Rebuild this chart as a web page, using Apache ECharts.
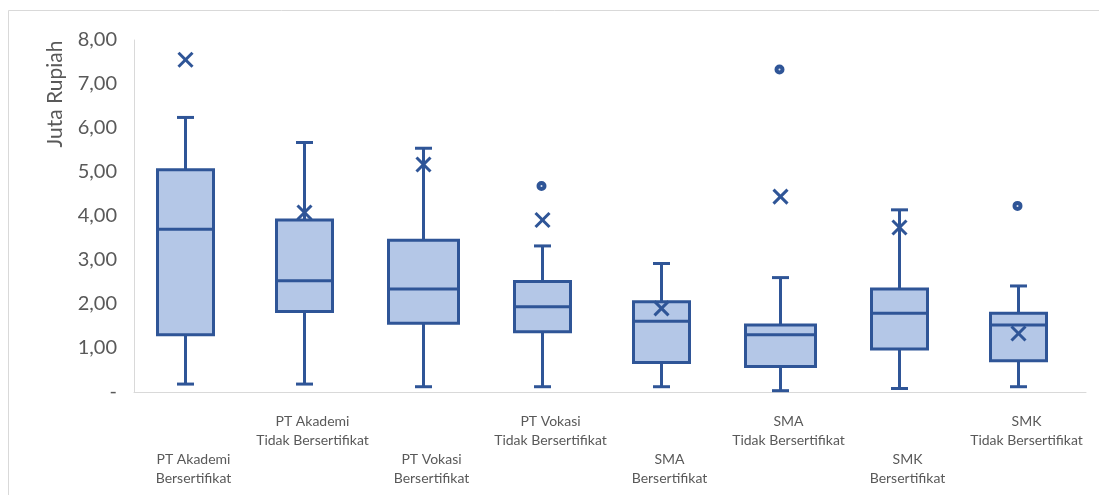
<!DOCTYPE html>
<html>
<head>
<meta charset="utf-8">
<script src="https://cdn.jsdelivr.net/npm/echarts@6/dist/echarts.min.js"></script>
<style>
  html, body { margin: 0; padding: 0; background: #ffffff; }
  #chart { width: 1099px; height: 495px; }
</style>
</head>
<body>
<div id="chart"></div>
<script>
// ---- Data ----
const categories = [
  'PT Akademi\nBersertifikat',
  'PT Akademi\nTidak Bersertifikat',
  'PT Vokasi\nBersertifikat',
  'PT Vokasi\nTidak Bersertifikat',
  'SMA\nBersertifikat',
  'SMA\nTidak Bersertifikat',
  'SMK\nBersertifikat',
  'SMK\nTidak Bersertifikat'
];
const minVals    = [0.18, 0.18, 0.12, 0.12, 0.12, 0.03, 0.08, 0.12];
const q1Vals     = [1.30, 1.83, 1.56, 1.37, 0.67, 0.58, 0.98, 0.71];
const medianVals = [3.70, 2.53, 2.34, 1.94, 1.61, 1.30, 1.79, 1.52];
const q3Vals     = [5.05, 3.91, 3.45, 2.51, 2.05, 1.52, 2.34, 1.79];
const maxVals    = [6.24, 5.67, 5.54, 3.32, 2.92, 2.60, 4.14, 2.41];
const meanVals   = [7.55, 4.08, 5.17, 3.91, 1.90, 4.44, 3.74, 1.33];
const outlierCats = [3, 5, 7];
const outlierVals = [4.68, 7.33, 4.23];
const yTicks = [0, 1, 2, 3, 4, 5, 6, 7, 8];

// ---- Styling ----
const STROKE = '#2F5597';
const FILL = '#B4C7E7';
const LABEL = '#595959';
const AXIS = '#D9D9D9';
const BOX_OFFSET = -9;
const wideBoxes = [2, 5];

const boxData = categories.map((c, i) =>
  [i, minVals[i], q1Vals[i], medianVals[i], q3Vals[i], maxVals[i], meanVals[i]]);
const outlierData = outlierCats.map((c, k) => [c, outlierVals[k]]);

function renderBox(params, api) {
  const i = api.value(0);
  const cx = Math.round(api.coord([i, 0])[0] + BOX_OFFSET) + 0.5;
  const y = v => api.coord([i, v])[1];
  const w = wideBoxes.indexOf(i) >= 0 ? 70 : 56;
  const cap = 8.5;
  const xs = 7;
  const lw = 3;
  const yMin = y(api.value(1)), yQ1 = y(api.value(2)), yMed = y(api.value(3));
  const yQ3 = y(api.value(4)), yMax = y(api.value(5)), yMean = y(api.value(6));
  const ls = { stroke: STROKE, lineWidth: lw };
  return {
    type: 'group',
    children: [
      { type: 'line', shape: { x1: cx, y1: yQ3, x2: cx, y2: yMax }, style: ls },
      { type: 'line', shape: { x1: cx, y1: yQ1, x2: cx, y2: yMin }, style: ls },
      { type: 'line', shape: { x1: cx - cap, y1: yMax, x2: cx + cap, y2: yMax }, style: ls },
      { type: 'line', shape: { x1: cx - cap, y1: yMin, x2: cx + cap, y2: yMin }, style: ls },
      { type: 'rect', shape: { x: cx - w / 2, y: yQ3, width: w, height: yQ1 - yQ3 },
        style: { fill: FILL, stroke: STROKE, lineWidth: lw } },
      { type: 'line', shape: { x1: cx - w / 2, y1: yMed, x2: cx + w / 2, y2: yMed }, style: ls },
      { type: 'line', shape: { x1: cx - xs, y1: yMean - xs, x2: cx + xs, y2: yMean + xs }, style: ls },
      { type: 'line', shape: { x1: cx - xs, y1: yMean + xs, x2: cx + xs, y2: yMean - xs }, style: ls }
    ]
  };
}

const chart = echarts.init(document.getElementById('chart'), null, { renderer: 'canvas' });
chart.setOption({
  animation: false,
  backgroundColor: '#ffffff',
  textStyle: { fontFamily: 'Lato, "Open Sans", sans-serif' },
  grid: { left: 134, right: 13, top: 40, bottom: 103, containLabel: false },
  graphic: [
    { type: 'rect', silent: true, z: -10,
      shape: { x: 8.5, y: 10.5, width: 1200, height: 600 },
      style: { fill: 'none', stroke: AXIS, lineWidth: 1 } },
    { type: 'text', x: 55, y: 94, rotation: Math.PI / 2,
      style: { text: 'Juta Rupiah', fill: LABEL, font: '21px Lato, "Open Sans", sans-serif',
               textAlign: 'center', textVerticalAlign: 'middle' } }
  ],
  xAxis: {
    type: 'category',
    data: categories,
    boundaryGap: true,
    axisLine: { show: true, lineStyle: { color: AXIS, width: 1 } },
    axisTick: { show: false },
    splitLine: { show: false },
    axisLabel: {
      interval: 0,
      color: LABEL,
      fontSize: 14,
      lineHeight: 19,
      margin: 20,
      fontFamily: 'Lato, "Open Sans", sans-serif',
      formatter: (v, idx) => (idx % 2 === 0 ? '\n\n' + v : v)
    }
  },
  yAxis: {
    type: 'value',
    min: yTicks[0],
    max: yTicks[yTicks.length - 1],
    interval: 1,
    axisLine: { show: true, lineStyle: { color: AXIS, width: 1 } },
    axisTick: { show: false },
    splitLine: { show: false },
    axisLabel: {
      color: LABEL,
      fontSize: 20,
      margin: 17,
      fontFamily: 'Lato, "Open Sans", sans-serif',
      formatter: v => (v === 0 ? '-' : v.toFixed(2).replace('.', ','))
    }
  },
  series: [
    {
      type: 'custom',
      name: 'box',
      renderItem: renderBox,
      data: boxData,
      encode: { x: 0, y: [1, 2, 3, 4, 5, 6] },
      z: 2
    },
    {
      type: 'scatter',
      name: 'outlier',
      data: outlierData,
      symbol: 'circle',
      symbolSize: 6,
      symbolOffset: [BOX_OFFSET, 0],
      itemStyle: { color: '#DCE4F2', borderColor: STROKE, borderWidth: 4, opacity: 1 },
      z: 3
    }
  ]
});
</script>
</body>
</html>
